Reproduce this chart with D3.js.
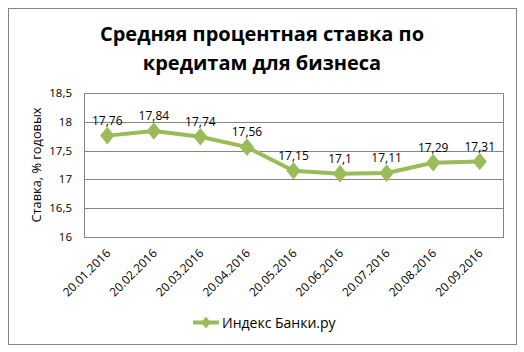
<!DOCTYPE html>
<html><head><meta charset="utf-8">
<script src="https://cdn.jsdelivr.net/npm/d3@7"></script>
<style>body{margin:0;background:#fff}svg{display:block}</style>
</head><body>
<script>
const categories = ["20.01.2016","20.02.2016","20.03.2016","20.04.2016","20.05.2016","20.06.2016","20.07.2016","20.08.2016","20.09.2016"];
const values = [17.76,17.84,17.74,17.56,17.15,17.1,17.11,17.29,17.31];
const labels = ["17,76","17,84","17,74","17,56","17,15","17,1","17,11","17,29","17,31"];
const yTicks = [16,16.5,17,17.5,18,18.5];
const seriesName = "Индекс Банки.ру";
const titleLines = ["Средняя процентная ставка по","кредитам для бизнеса"];
const yTitle = "Ставка, % годовых";

const W=524,H=352;
const svg=d3.select("body").append("svg").attr("width",W).attr("height",H);
const font="'Open Sans', sans-serif";
svg.append("rect").attr("x",8.5).attr("y",8.5).attr("width",508).attr("height",336).attr("fill","#fff").attr("stroke","#868686");

const L=84,R=503,T=93,B=237;
const x=d3.scaleBand().domain(categories).range([L,R]);
const y=d3.scaleLinear().domain([16,18.5]).range([B,T]);

svg.append("g").selectAll("line").data(yTicks).join("line")
 .attr("x1",L).attr("x2",R).attr("y1",d=>Math.round(y(d))+0.5).attr("y2",d=>Math.round(y(d))+0.5)
 .attr("stroke","#868686");
svg.append("rect").attr("x",L+0.5).attr("y",T+0.5).attr("width",R-L).attr("height",B-T).attr("fill","none").attr("stroke","#868686");

svg.append("g").selectAll("text").data(yTicks).join("text")
 .attr("x",L-12).attr("y",d=>y(d)+4).attr("text-anchor","end")
 .attr("font-family",font).attr("font-size",11.5).attr("fill","#000")
 .text(d=>String(d).replace(".",","));

svg.append("g").selectAll("text").data(categories).join("text")
 .attr("transform",d=>`translate(${x(d)+x.bandwidth()/2+4},${B+17}) rotate(-45)`)
 .attr("text-anchor","end").attr("font-family",font).attr("font-size",12).attr("fill","#000").text(d=>d);

const cx=d=>x(d)+x.bandwidth()/2;
const line=d3.line().x((d,i)=>cx(categories[i])).y(d=>y(d));
svg.append("path").datum(values).attr("d",line).attr("fill","none").attr("stroke","#9BBB59").attr("stroke-width",4).attr("stroke-linejoin","round");
const diamond=d3.symbol().type(d3.symbolDiamond).size(90);
svg.append("g").selectAll("path").data(values).join("path")
 .attr("transform",(d,i)=>`translate(${cx(categories[i])},${y(d)}) scale(1.4,1)`)
 .attr("d",diamond).attr("fill","#9BBB59");
svg.append("g").selectAll("text").data(values).join("text")
 .attr("x",(d,i)=>cx(categories[i])).attr("y",d=>y(d)-11).attr("text-anchor","middle")
 .attr("font-family",font).attr("font-size",12).attr("fill","#000").text((d,i)=>labels[i]);

svg.append("g").selectAll("text").data(titleLines).join("text")
 .attr("x",262).attr("y",(d,i)=>41+i*29).attr("text-anchor","middle")
 .attr("font-family",font).attr("font-weight","bold").attr("font-size",20).attr("fill","#000").text(d=>d);

svg.append("text").attr("transform",`translate(41,${(T+B)/2}) rotate(-90)`).attr("text-anchor","middle")
 .attr("font-family",font).attr("font-size",12.8).attr("fill","#000").text(yTitle);

const lg=svg.append("g");
lg.append("line").attr("x1",193).attr("x2",219).attr("y1",322.5).attr("y2",322.5).attr("stroke","#9BBB59").attr("stroke-width",4);
lg.append("path").attr("transform","translate(206,322.5) scale(1.4,1)").attr("d",d3.symbol().type(d3.symbolDiamond).size(40)).attr("fill","#9BBB59");
lg.append("text").attr("x",222).attr("y",327.5).attr("font-family",font).attr("font-size",14).attr("fill","#000").text(seriesName);
</script>
</body></html>
